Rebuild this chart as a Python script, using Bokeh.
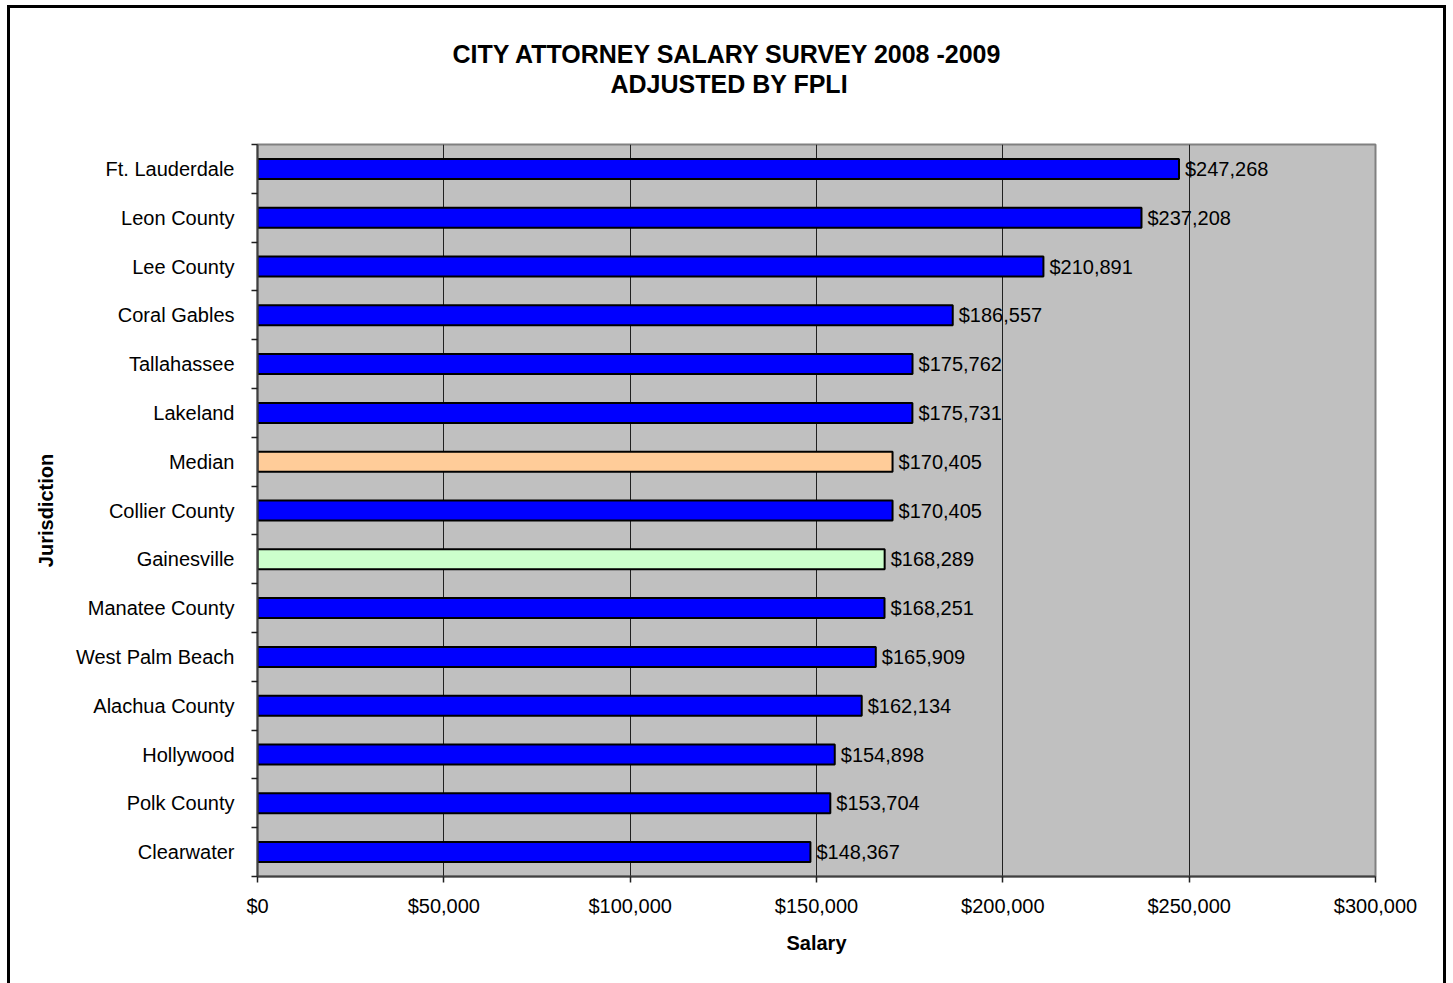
from bokeh.plotting import figure
from bokeh.models import FixedTicker, NumeralTickFormatter, Title, ColumnDataSource
from bokeh.embed import file_html
from bokeh.resources import INLINE
from bokeh.core.properties import value

jurisdictions = ["Ft. Lauderdale", "Leon County", "Lee County", "Coral Gables", "Tallahassee",
                 "Lakeland", "Median", "Collier County", "Gainesville", "Manatee County",
                 "West Palm Beach", "Alachua County", "Hollywood", "Polk County", "Clearwater"]
salaries = [247268, 237208, 210891, 186557, 175762, 175731, 170405, 170405, 168289, 168251,
            165909, 162134, 154898, 153704, 148367]
bar_colors = ["#0000FF"] * 6 + ["#FFCC99", "#0000FF", "#CCFFCC"] + ["#0000FF"] * 6
x_ticks = [0, 50000, 100000, 150000, 200000, 250000, 300000]
title_lines = ["CITY ATTORNEY SALARY SURVEY 2008 -2009", "ADJUSTED BY FPLI"]

FONT = "Liberation Sans"
n = len(jurisdictions)
ypos = [n - 1 - i for i in range(n)]
labels = ["${:,}".format(s) for s in salaries]

src = ColumnDataSource(dict(y=ypos, salary=salaries, color=bar_colors, label=labels))

p = figure(width=1453, height=983, output_backend="svg", toolbar_location=None,
           x_range=(0, 300000), y_range=(-0.5, n - 0.5),
           min_border_left=257, min_border_right=78, min_border_top=144, min_border_bottom=107)

p.background_fill_color = "#C0C0C0"
p.border_fill_alpha = 0
p.outline_line_color = "#808080"
p.outline_line_width = 2
# outer chart border (left, top, right edges; bottom edge lies below the window)
p.styles = {
    "background": ("linear-gradient(#000,#000) 7px 5px / 3px 1200px no-repeat, "
                   "linear-gradient(#000,#000) 7px 5px / 1439px 3px no-repeat, "
                   "linear-gradient(#000,#000) 1443px 5px / 3px 1200px no-repeat, #ffffff"),
}

p.hbar(y="y", left=0, right="salary", height=0.41, fill_color="color",
       line_color="black", line_width=2, source=src)
p.text(x="salary", y="y", text="label", x_offset=6, text_baseline="middle",
       text_align="left", text_font=value(FONT), text_font_size="20px",
       text_color="black", source=src)

# titles: first-added title sits closest to the frame, p.title outermost
p.title.text = title_lines[0]
p.title.align = "left"
p.title.offset = 195
p.title.standoff = 0
p.title.text_font = FONT
p.title.text_font_size = "25px"
p.title.text_font_style = "bold"
p.title.text_color = "black"
spacer = Title(text=" ", standoff=17, text_font=FONT, text_font_size="25px")
p.add_layout(spacer, "above")
t2 = Title(text=title_lines[1], align="left", offset=353, standoff=0,
           text_font=FONT, text_font_size="25px", text_font_style="bold", text_color="black")
p.add_layout(t2, "above")

# x axis
p.xaxis.ticker = FixedTicker(ticks=x_ticks)
p.xaxis.formatter = NumeralTickFormatter(format="$0,0")
p.xaxis.major_tick_out = 6
p.xaxis.major_tick_in = 0
p.xaxis.minor_tick_out = 0
p.xaxis.minor_tick_in = 0
p.xaxis.major_label_standoff = 12
p.xaxis.axis_label = "Salary"
p.xaxis.axis_label_standoff = 12

# y axis
p.yaxis.ticker = FixedTicker(ticks=ypos, minor_ticks=[k - 0.5 for k in range(n + 1)])
p.yaxis.major_label_overrides = {y: name for y, name in zip(ypos, jurisdictions)}
p.yaxis.major_tick_out = 0
p.yaxis.major_tick_in = 0
p.yaxis.minor_tick_out = 6
p.yaxis.minor_tick_in = 0
p.yaxis.major_label_standoff = 17
p.yaxis.axis_label = "Jurisdiction"
p.yaxis.axis_label_standoff = 16

for ax in (p.xaxis, p.yaxis):
    ax.axis_line_color = "#404040"
    ax.axis_line_width = 2
    ax.major_tick_line_color = "#202020"
    ax.minor_tick_line_color = "#202020"
    ax.major_tick_line_width = 1.5
    ax.minor_tick_line_width = 1.5
    ax.major_label_text_font = FONT
    ax.major_label_text_font_size = "20px"
    ax.major_label_text_color = "black"
    ax.axis_label_text_font = FONT
    ax.axis_label_text_font_size = "20px"
    ax.axis_label_text_font_style = "bold"
    ax.axis_label_text_color = "black"

p.xgrid.ticker = FixedTicker(ticks=x_ticks)
p.xgrid.grid_line_color = "#202020"
p.xgrid.grid_line_width = 1
p.ygrid.grid_line_color = None

open("out.html", "w").write(file_html(p, INLINE))
